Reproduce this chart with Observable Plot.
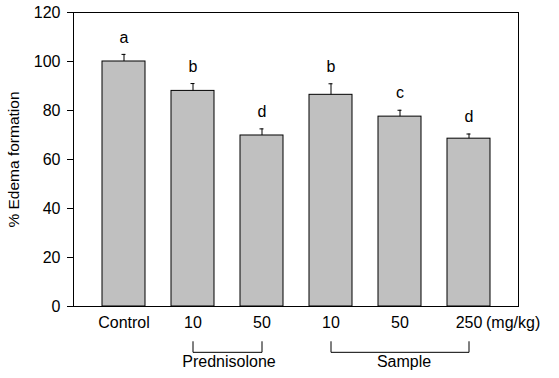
<!DOCTYPE html>
<html>
<head>
<meta charset="utf-8">
<script src="https://cdn.jsdelivr.net/npm/d3@7"></script>
<script src="https://cdn.jsdelivr.net/npm/@observablehq/plot@0.6"></script>
<style>
  html, body { margin: 0; padding: 0; background: #fff; }
</style>
</head>
<body>
<div id="chart"></div>
<script>
const categories = ["Control", "P10", "P50", "S10", "S50", "S250"];
const tickLabels = ["Control", "10", "50", "10", "50", "250"];
const values = [100, 88, 69.8, 86.4, 77.5, 68.5];
const errors = [2.9, 3.0, 2.7, 4.5, 2.6, 1.9];
const letters = ["a", "b", "d", "b", "c", "d"];
const groupNames = ["Prednisolone", "Sample"];
const groupFrom = ["P10", "S10"];
const groupTo = ["P50", "S250"];
const groupMid = ["P10", "S50"];
const unitLabel = "(mg/kg)";
const yLabel = "% Edema formation";

const data = categories.map((c, i) => ({
  cat: c, label: tickLabels[i], value: values[i], top: values[i] + errors[i], letter: letters[i]
}));
const groups = groupNames.map((n, i) => ({name: n, from: groupFrom[i], to: groupTo[i], mid: groupMid[i]}));

const font = "'Liberation Sans', Arial, sans-serif";
const fs = 16;

const chart = Plot.plot({
  width: 559,
  height: 378,
  marginLeft: 73,
  marginRight: 41,
  marginTop: 12,
  marginBottom: 72,
  style: {fontFamily: font, fontSize: fs + "px", color: "#000", background: "#fff", overflow: "visible"},
  x: {domain: categories, padding: 0.38, axis: null},
  y: {domain: [0, 120], ticks: d3.range(0, 121, 20)},
  marks: [
    Plot.barY(data, {x: "cat", y: "value", fill: "#c0c0c0", stroke: "#000", strokeWidth: 1}),
    Plot.ruleX(data, {x: "cat", y1: "value", y2: "top", stroke: "#000", strokeWidth: 1}),
    Plot.tickY(data, {x: "cat", y: "top", stroke: "#000", strokeWidth: 1, insetLeft: 19.5, insetRight: 19.5}),
    Plot.text(data, {x: "cat", y: "top", text: "letter", dy: -17, fontSize: fs, fill: "#000"}),
    Plot.frame({stroke: "#000", strokeWidth: 1}),
    Plot.axisY({
      ticks: d3.range(0, 121, 20), tickSize: 6, tickPadding: 7, fontSize: fs, label: null
    }),
    Plot.text([yLabel], {text: d => d, frameAnchor: "left", textAnchor: "middle", dx: -59, rotate: -90, fontSize: 15.5, fill: "#000"}),
    Plot.text(data, {x: "cat", text: "label", frameAnchor: "bottom", dy: 21, fontSize: fs, fill: "#000"}),
    Plot.text([unitLabel], {x: () => categories[5], text: d => d, frameAnchor: "bottom", dy: 21, dx: 17, textAnchor: "start", fontSize: fs, fill: "#000"}),
    // group brackets
    Plot.link(groups, {x1: "from", x2: "to", y1: -18.7, y2: -18.7, stroke: "#000", strokeWidth: 1}),
    Plot.link(groups, {x1: "from", x2: "from", y1: -14.2, y2: -18.7, stroke: "#000", strokeWidth: 1}),
    Plot.link(groups, {x1: "to", x2: "to", y1: -14.2, y2: -18.7, stroke: "#000", strokeWidth: 1}),
    Plot.text(groups.slice(0, 1), {x: "mid", text: "name", dx: 36, frameAnchor: "bottom", dy: 60, fontSize: fs, fill: "#000"}),
    Plot.text(groups.slice(1), {x: "mid", text: "name", dx: 4, frameAnchor: "bottom", dy: 60, fontSize: fs, fill: "#000"})
  ]
});
document.getElementById("chart").appendChild(chart);
</script>
</body>
</html>
